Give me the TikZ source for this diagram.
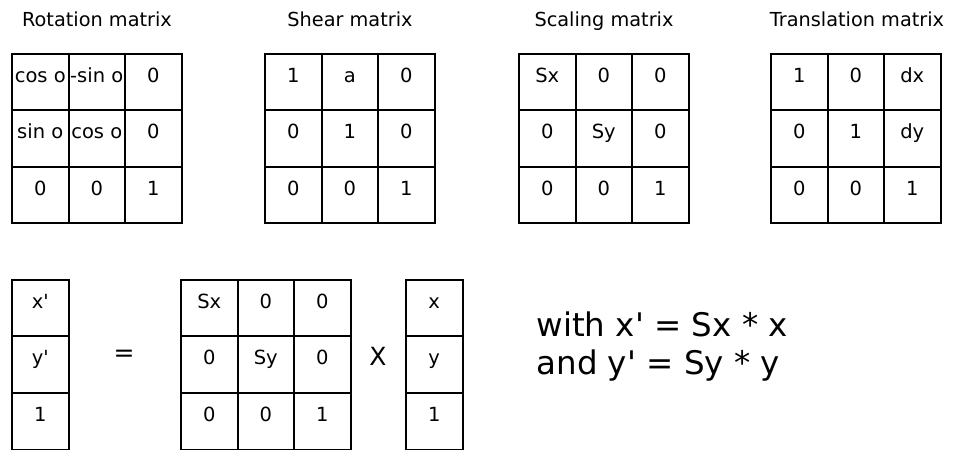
\documentclass[tikz,border=0pt]{standalone}
\usepackage{fontspec}
\setmainfont{DejaVu Sans}
\usetikzlibrary{positioning}

\newcommand\cellfont{\fontsize{19.5bp}{23bp}\selectfont}
\newcommand\headfont{\fontsize{19.3bp}{23bp}\selectfont}
\newcommand\opfont{\fontsize{25bp}{29bp}\selectfont}
\newcommand\notefont{\fontsize{32.5bp}{38bp}\selectfont}
\newcommand\prm{\textquotesingle}

\tikzset{
  cell/.style={draw, line width=2bp, minimum width=56.5bp, minimum height=56.5bp,
    inner sep=0pt, text height=7bp, text depth=7bp, font=\cellfont},
  heading/.style={anchor=base, font=\headfont},
  op/.style={font=\opfont},
  note/.style={anchor=base west, font=\notefont},
}

\begin{document}
\begin{tikzpicture}[x=1bp,y=-1bp]
\useasboundingbox (0,0) rectangle (954,450);
% name, left, top, columns, entries (row by row)
\newcommand\Cells[5]{%
  \foreach \e [count=\k from 0] in {#5} {
    \pgfmathtruncatemacro\ri{\k/#4}
    \pgfmathtruncatemacro\ci{mod(\k,#4)}
    \node[cell] (#1-\ri-\ci) at ({#2+(\ci+0.5)*56.5}, {#3+(\ri+0.5)*56.5}) {\e};
  }}

% the four transformation matrices
\node[heading] (rot-title) at (97,27) {Rotation matrix};
\Cells{rot}{12}{54}{3}{cos o,-sin o,0,sin o,cos o,0,0,0,1}

\node[heading] (shear-title) at (350,27) {Shear matrix};
\Cells{shear}{265}{54}{3}{1,a,0,0,1,0,0,0,1}

\node[heading] (scale-title) at (604,27) {Scaling matrix};
\Cells{scale}{519}{54}{3}{Sx,0,0,0,Sy,0,0,0,1}

\node[heading] (trans-title) at (857,27) {Translation matrix};
\Cells{trans}{771}{54}{3}{1,0,dx,0,1,dy,0,0,1}

% scaling example
\Cells{lhs}{12}{280}{1}{x\prm,y\prm,1}
\node[op] (eq) at (124,356) {=};
\Cells{smat}{181}{280}{3}{Sx,0,0,0,Sy,0,0,0,1}
\node[op] (times) at (378,356) {X};
\Cells{rhs}{406}{280}{1}{x,y,1}

\node[note] (note1) at (533,337) {with x\prm{} = Sx * x};
\node[note] (note2) at (533,375) {and y\prm{} = Sy * y};
\end{tikzpicture}
\end{document}
